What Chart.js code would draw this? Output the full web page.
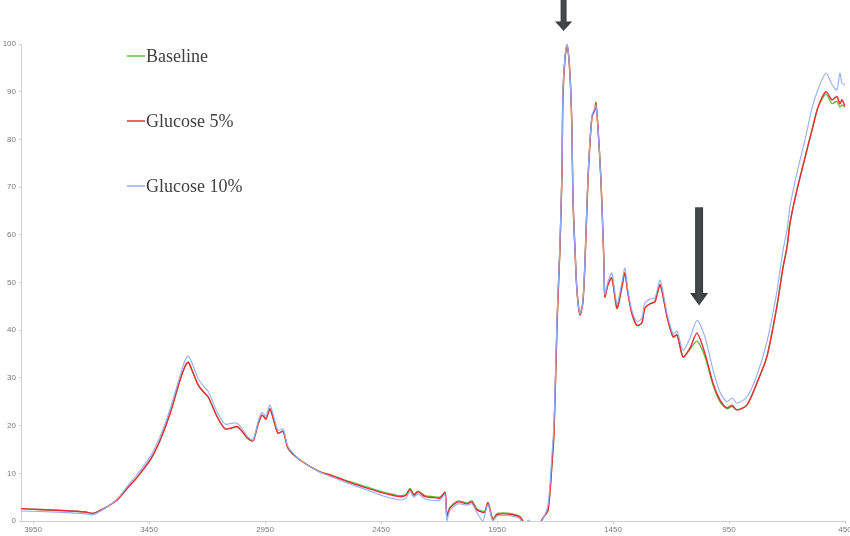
<!DOCTYPE html>
<html>
<head>
<meta charset="utf-8">
<script src="https://cdn.jsdelivr.net/npm/chart.js@4/dist/chart.umd.min.js"></script>
<style>
  body { margin: 0; background: #fff; }
  #wrap { width: 850px; height: 536px; position: relative; }
</style>
</head>
<body>
<div id="wrap"><canvas id="spectrumChart"></canvas></div>
<script>
// wavenumbers (cm-1)
const wavenumbers = [4001, 3925, 3825, 3725, 3691, 3645, 3588, 3545, 3501, 3445, 3402, 3359, 3316, 3294, 3281, 3264, 3238, 3214, 3195, 3156,
    3122, 3094, 3070, 3044, 3027, 3002, 2979, 2963, 2946, 2929, 2909, 2894, 2872, 2851, 2799, 2713, 2670, 2624, 2574, 2510,
    2443, 2368, 2343, 2325, 2308, 2291, 2260, 2223, 2196, 2174, 2166, 2153, 2118, 2080, 2058, 2037, 2011, 2002, 1989, 1968,
    1951, 1923, 1882, 1852, 1839, 1813, 1783, 1752, 1730, 1713, 1704, 1691, 1679, 1670, 1666, 1657, 1648, 1636, 1627, 1623,
    1614, 1605, 1592, 1580, 1571, 1558, 1541, 1528, 1524, 1515, 1502, 1494, 1489, 1485, 1472, 1455, 1433, 1412, 1399, 1386,
    1369, 1347, 1326, 1313, 1292, 1269, 1247, 1217, 1191, 1174, 1148, 1118, 1088, 1054, 1019, 989, 959, 937, 916, 873,
    830, 787, 744, 717, 700, 687, 657, 622, 592, 566, 532, 506, 485, 472, 463, 450];

const baseline = [2.6, 2.4, 2.2, 1.9, 1.6, 2.6, 4.4, 6.8, 9.2, 12.8, 17.0, 22.6, 29.6, 32.5, 33.3, 31.5, 28.5, 27.0, 26.0, 21.8,
    19.3, 19.5, 19.8, 18.5, 17.4, 16.8, 20.5, 22.2, 21.4, 23.5, 20.5, 18.4, 18.8, 15.3, 12.8, 10.3, 9.7, 8.9, 8.1, 7.1,
    6.1, 5.3, 5.6, 6.8, 5.6, 6.3, 5.3, 5.1, 5.0, 6.0, 1.2, 2.9, 4.2, 3.8, 4.2, 2.5, 2.0, 2.1, 3.9, 0.4,
    1.5, 1.7, 1.5, 1.0, 0.0, -2, -2, 0.6, 2.3, 12, 19, 42, 57, 73, 89, 97, 99.6, 94, 82, 68,
    57, 48, 43.4, 45.9, 54, 71.5, 84.7, 86.5, 87.8, 82.6, 71.5, 61, 54, 47, 49.5, 51, 44.6, 49, 52, 47.8,
    43.6, 41, 41.5, 44.6, 45.5, 46, 49.5, 42.8, 38.6, 39, 34.4, 36.0, 37.7, 34.5, 28.5, 25.0, 23.5, 24.0, 23.3, 24.3,
    28.9, 34.4, 44.9, 53.2, 57.4, 62.5, 69.4, 76.3, 82, 86.8, 89.5, 87.5, 88.0, 86.8, 87.2, 86.8];

const glucose5 = [2.6, 2.4, 2.2, 1.9, 1.6, 2.6, 4.4, 6.8, 9.2, 12.8, 17.0, 22.6, 29.6, 32.5, 33.3, 31.5, 28.5, 27.0, 26.0, 21.8,
    19.3, 19.5, 19.8, 18.5, 17.4, 16.8, 20.5, 22.2, 21.4, 23.5, 20.5, 18.4, 18.8, 15.3, 12.8, 10.3, 9.6, 8.8, 7.9, 6.9,
    5.9, 5.1, 5.4, 6.6, 5.4, 6.1, 5.1, 4.9, 4.8, 5.9, 1.0, 2.7, 4.0, 3.6, 4.0, 2.3, 1.8, 1.9, 3.8, 0.2,
    1.3, 1.5, 1.3, 0.8, 0.0, -2, -2, 0.6, 2.3, 12, 19, 42, 57, 73, 89, 97, 99.8, 94, 82, 68,
    57, 48, 43.2, 45.7, 54, 71.5, 84.7, 86.2, 87.5, 82.6, 71.5, 61, 54, 47, 49.5, 51, 44.6, 49, 52, 47.8,
    43.6, 41, 41.5, 44.6, 45.5, 46, 49.5, 42.8, 38.6, 39, 34.4, 36.3, 39.4, 35.2, 28.9, 25.4, 23.7, 24.3, 23.3, 24.3,
    28.9, 34.4, 44.9, 53.2, 57.4, 62.5, 69.4, 76.3, 82, 86.8, 90, 88.3, 89, 87.5, 88.3, 87];

const glucose10 = [2.1, 2.0, 1.8, 1.5, 1.3, 2.5, 4.6, 7.2, 9.8, 13.5, 17.8, 23.5, 30.5, 33.8, 34.6, 33.0, 29.8, 28.2, 27.2, 22.8,
    20.3, 20.5, 20.5, 19.0, 17.8, 17.0, 21.0, 22.8, 22.0, 24.3, 21.3, 19.0, 19.3, 15.6, 12.8, 10.2, 9.4, 8.5, 7.6, 6.5,
    5.3, 4.4, 4.8, 6.2, 5.0, 5.7, 4.6, 4.3, 4.4, 5.5, 0.0, 2.2, 3.6, 3.3, 3.6, 1.8, 0.0, 1.5, 3.4, 0.0,
    1.0, 1.2, 1.0, 0.5, -1, 0.2, -2, 0.4, 3.5, 14, 21, 43, 58, 74, 90, 97.5, 100, 94, 82, 68,
    57, 48, 43.5, 46, 54.5, 72, 85, 86.6, 87.2, 82.6, 71.5, 61, 54, 47.5, 50.2, 52, 45.5, 50, 53, 48.5,
    44.2, 41.8, 42.5, 45.7, 46.5, 46.8, 50.5, 43.5, 39.2, 39.8, 35.8, 38.4, 42.1, 38.6, 31.7, 27.0, 25.0, 25.8, 24.7, 26.0,
    30.5, 37.5, 48.0, 56.8, 61.0, 66.0, 73.0, 80.0, 86.6, 90.5, 93.9, 91.5, 90.4, 93.9, 91.8, 91.4];

const seriesNames = ['Baseline', 'Glucose 5%', 'Glucose 10%'];
const xTickLabels = [3950, 3450, 2950, 2450, 1950, 1450, 950, 450];

// arrows pointing at the bands of interest
const arrowBands = [1663, 1079];

function toPoints(values) {
    return values.map((v, i) => ({ x: wavenumbers[i], y: v }));
}

// legend drawn inside the plot, one entry per row
const insideLegend = {
    id: 'insideLegend',
    afterDraw(chart) {
        const ctx = chart.ctx;
        const area = chart.chartArea;
        ctx.save();
        ctx.font = '18px "Liberation Serif", "Times New Roman", serif';
        ctx.textBaseline = 'middle';
        chart.data.datasets.forEach((ds, i) => {
            const y = area.top + 12 + i * 65;
            const x = area.left + 106;
            ctx.strokeStyle = ds.borderColor;
            ctx.lineWidth = 1.5;
            ctx.beginPath();
            ctx.moveTo(x, y);
            ctx.lineTo(x + 18, y);
            ctx.stroke();
            ctx.fillStyle = '#404040';
            ctx.fillText(ds.label, x + 19, y + 1);
        });
        ctx.restore();
    }
};

function drawArrow(ctx, cx, yTop, yShaftEnd, yTip, shaftW, headW) {
    const grad = ctx.createLinearGradient(cx - headW / 2, 0, cx + headW / 2, 0);
    grad.addColorStop(0, '#2e3233');
    grad.addColorStop(0.5, '#454a4b');
    grad.addColorStop(1, '#2e3233');
    ctx.fillStyle = grad;
    ctx.beginPath();
    ctx.moveTo(cx - shaftW / 2, yTop);
    ctx.lineTo(cx + shaftW / 2, yTop);
    ctx.lineTo(cx + shaftW / 2, yShaftEnd);
    ctx.lineTo(cx + headW / 2, yShaftEnd);
    ctx.lineTo(cx, yTip);
    ctx.lineTo(cx - headW / 2, yShaftEnd);
    ctx.lineTo(cx - shaftW / 2, yShaftEnd);
    ctx.closePath();
    ctx.fill();
}

const arrows = {
    id: 'arrows',
    afterDraw(chart) {
        const ctx = chart.ctx;
        const xs = chart.scales.x;
        const ys = chart.scales.y;
        ctx.save();
        // amide band arrow, starts at the top edge of the canvas
        let cx = xs.getPixelForValue(arrowBands[0]);
        drawArrow(ctx, cx, 0, ys.getPixelForValue(104.7), ys.getPixelForValue(102.7), 6, 17);
        // glucose band arrow
        cx = xs.getPixelForValue(arrowBands[1]);
        drawArrow(ctx, cx, ys.getPixelForValue(65.8), ys.getPixelForValue(47.8), ys.getPixelForValue(45.2), 8, 18);
        ctx.restore();
    }
};

const ctx = document.getElementById('spectrumChart').getContext('2d');
const chart = new Chart(ctx, {
    type: 'line',
    data: {
        datasets: [{
            label: seriesNames[0],
            data: toPoints(baseline),
            borderColor: '#5cc23a',
            borderWidth: 1.4,
            order: 2
        }, {
            label: seriesNames[1],
            data: toPoints(glucose5),
            borderColor: '#f02a3c',
            borderWidth: 1.4,
            order: 1
        }, {
            label: seriesNames[2],
            data: toPoints(glucose10),
            borderColor: '#93aef5',
            borderWidth: 1.1,
            order: 0
        }]
    },
    options: {
        responsive: true,
        maintainAspectRatio: false,
        animation: false,
        layout: { padding: { top: 44, right: 5, left: 0, bottom: 0 } },
        elements: {
            point: { radius: 0 },
            line: { tension: 0.25 }
        },
        plugins: {
            legend: { display: false },
            tooltip: { enabled: false }
        },
        scales: {
            x: {
                type: 'linear',
                reverse: true,
                min: 450,
                max: 4002,
                afterBuildTicks: (axis) => {
                    axis.ticks = xTickLabels.map(v => ({ value: v }));
                },
                afterFit: (axis) => {
                    axis.height = 15;
                    // let the end labels hang over the edges like the original
                    axis.paddingLeft = 0;
                    axis.paddingRight = 0;
                },
                grid: { drawOnChartArea: false, tickLength: 3, color: '#d0d0d0' },
                border: { color: '#d0d0d0' },
                ticks: {
                    autoSkip: false,
                    maxRotation: 0,
                    padding: 1,
                    color: '#7a7a7a',
                    font: { family: 'Liberation Sans', size: 8 },
                    callback: (v) => String(v)
                }
            },
            y: {
                min: 0,
                max: 100,
                afterFit: (axis) => { axis.width = 21; },
                grid: { drawOnChartArea: false, tickLength: 2, color: '#d0d0d0' },
                border: { color: '#d0d0d0' },
                ticks: {
                    stepSize: 10,
                    padding: 3,
                    color: '#7a7a7a',
                    font: { family: 'Liberation Sans', size: 8 }
                }
            }
        }
    },
    plugins: [insideLegend, arrows]
});
</script>
</body>
</html>
